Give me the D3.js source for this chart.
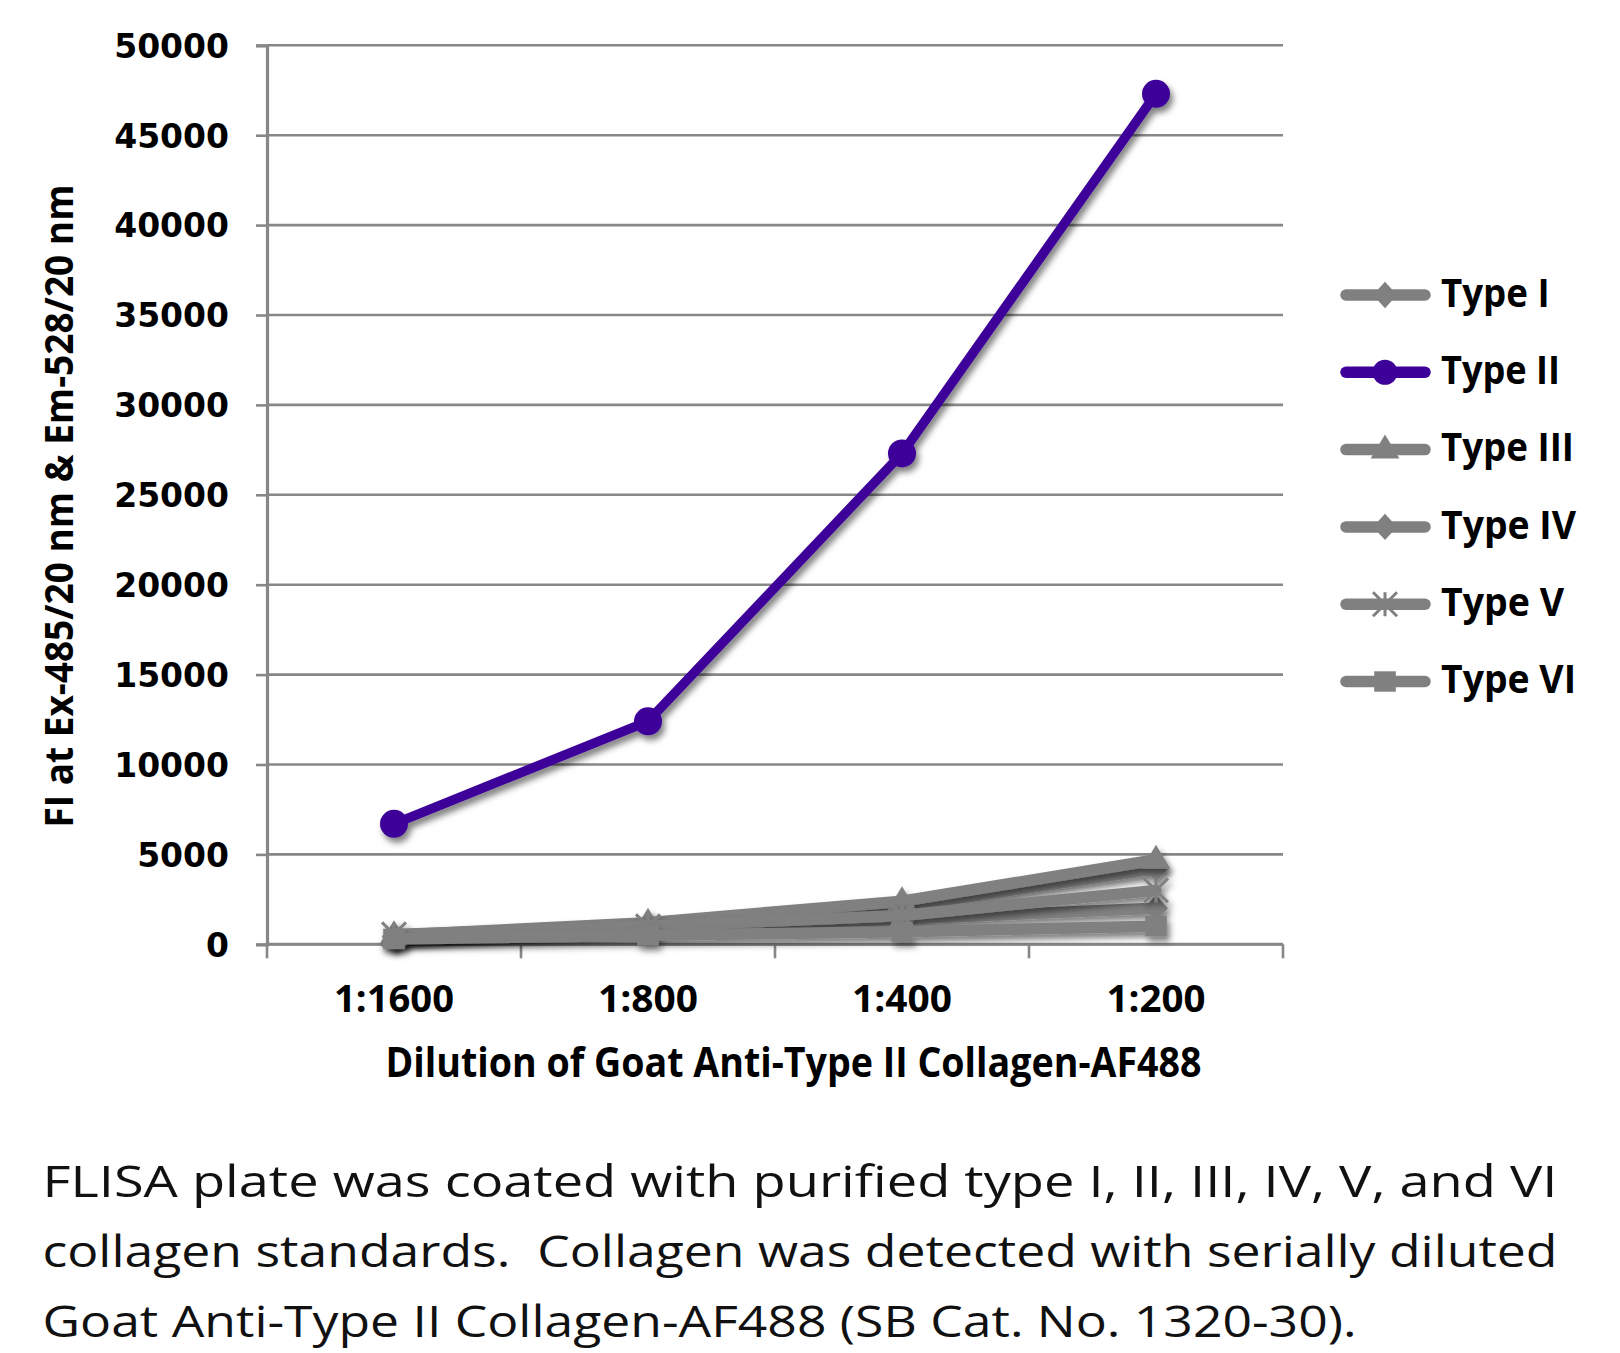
<!DOCTYPE html>
<html><head><meta charset="utf-8">
<script src="https://cdn.jsdelivr.net/npm/d3@7"></script>
<style>body{margin:0;background:#fff}svg{display:block}</style>
</head><body>
<svg id="c" width="1620" height="1353"></svg>
<script>
// ---- data ----
const categories = ["1:1600", "1:800", "1:400", "1:200"];
const seriesNames = ["Type I", "Type II", "Type III", "Type IV", "Type V", "Type VI"];
const typeI   = [450, 1100, 2100, 4200];
const typeII  = [6700, 12400, 27300, 47300];
const typeIII = [500, 1200, 2400, 4700];
const typeIV  = [400, 900, 1400, 2000];
const typeV   = [550, 1000, 1600, 3000];
const typeVI  = [300, 500, 700, 1000];
const yTicks = [0, 5000, 10000, 15000, 20000, 25000, 30000, 35000, 40000, 45000, 50000];
const seriesMarkers = ["diamond", "circle", "triangle", "diamond", "star", "square"];
const yTitle = "FI at Ex-485/20 nm & Em-528/20 nm";
const xTitle = "Dilution of Goat Anti-Type II Collagen-AF488";
const captionLines = [
  "FLISA plate was coated with purified type I, II, III, IV, V, and VI",
  "collagen standards.  Collagen was detected with serially diluted",
  "Goat Anti-Type II Collagen-AF488 (SB Cat. No. 1320-30)."
];

// ---- styling / layout ----
const GRAY = "#808080", PURPLE = "#3d0099", GRID = "#878787";
const seriesColors = [GRAY, PURPLE, GRAY, GRAY, GRAY, GRAY];
const seriesData = [typeI, typeII, typeIII, typeIV, typeV, typeVI];
const plot = {x0: 267, x1: 1283, y0: 45.3, y1: 944.3};

const svg = d3.select("#c");
const defs = svg.append("defs");
const f = defs.append("filter").attr("id", "sh").attr("filterUnits", "userSpaceOnUse")
  .attr("x", 0).attr("y", 0).attr("width", 1620).attr("height", 1353);
f.append("feDropShadow").attr("dx", 3).attr("dy", 5).attr("stdDeviation", 3)
  .attr("flood-color", "#000").attr("flood-opacity", 0.5);

const x = d3.scaleBand().domain(categories).range([plot.x0, plot.x1]).paddingInner(0).paddingOuter(0);
const y = d3.scaleLinear().domain([0, 50000]).range([plot.y1, plot.y0]);

// gridlines
svg.append("g").selectAll("line").data(yTicks).join("line")
  .attr("x1", plot.x0).attr("x2", plot.x1)
  .attr("y1", d => y(d)).attr("y2", d => y(d))
  .attr("stroke", GRID).attr("stroke-width", 2.6);

// y axis
const yAxis = svg.append("g").attr("transform", `translate(${plot.x0},0)`)
  .call(d3.axisLeft(y).tickValues(yTicks).tickSize(11).tickPadding(27).tickFormat(d3.format("d")));
yAxis.select(".domain").attr("stroke", GRID).attr("stroke-width", 3.2);
yAxis.selectAll(".tick line").attr("stroke", GRID).attr("stroke-width", 2.6);
yAxis.selectAll(".tick text")
  .attr("font-family", "DejaVu Sans").attr("font-weight", "bold").attr("font-size", 33)
  .attr("fill", "#000").attr("dy", "0.36em");

// x axis ticks at band boundaries
const bounds = categories.map(c => x(c)).concat([x(categories[categories.length - 1]) + x.bandwidth()]);
svg.append("g").selectAll("line").data(bounds).join("line")
  .attr("x1", d => d).attr("x2", d => d).attr("y1", plot.y1).attr("y2", plot.y1 + 14)
  .attr("stroke", GRID).attr("stroke-width", 2.6);
svg.append("line").attr("x1", plot.x0).attr("x2", plot.x1).attr("y1", plot.y1).attr("y2", plot.y1)
  .attr("stroke", GRID).attr("stroke-width", 3);

const xLabelWidths = {"1:1600": 120, "1:800": 100, "1:400": 100, "1:200": 99};
svg.append("g").selectAll("text").data(categories).join("text")
  .attr("x", d => x(d) + x.bandwidth() / 2).attr("y", 1011.5)
  .attr("text-anchor", "middle")
  .attr("font-family", "Open Sans").attr("font-weight", "bold").attr("font-size", 37)
  .attr("textLength", d => xLabelWidths[d]).attr("lengthAdjust", "spacingAndGlyphs")
  .text(d => d);

// axis titles
svg.append("text").attr("transform", "translate(72.7,506) rotate(-90)")
  .attr("text-anchor", "middle").attr("font-family", "Open Sans").attr("font-weight", "bold")
  .attr("font-size", 40).attr("textLength", 643).attr("lengthAdjust", "spacingAndGlyphs")
  .text(yTitle);
svg.append("text").attr("x", 793.5).attr("y", 1076.7)
  .attr("text-anchor", "middle").attr("font-family", "Open Sans").attr("font-weight", "bold")
  .attr("font-size", 41).attr("textLength", 816).attr("lengthAdjust", "spacingAndGlyphs")
  .text(xTitle);

// markers
function markerPath(type, s) {
  switch (type) {
    case "diamond": return `M0,${-s*1.1}L${s},0L0,${s*1.1}L${-s},0Z`;
    case "triangle": return `M0,${-s*1.25}L${s*1.2},${s*0.75}L${-s*1.2},${s*0.75}Z`;
    case "square": return `M${-s*0.9},${-s*0.85}H${s*0.9}V${s*0.85}H${-s*0.9}Z`;
    case "star": return `M${-s},${-s}L${s},${s}M${s},${-s}L${-s},${s}M0,${-s}V${s}`;
  }
}
function drawMarker(g, type, color, cx, cy, s) {
  if (type === "circle") {
    g.append("circle").attr("cx", cx).attr("cy", cy).attr("r", s).attr("fill", color);
  } else if (type === "star") {
    g.append("path").attr("d", markerPath(type, s)).attr("transform", `translate(${cx},${cy})`)
      .attr("fill", "none").attr("stroke", color).attr("stroke-width", 3);
  } else {
    g.append("path").attr("d", markerPath(type, s)).attr("transform", `translate(${cx},${cy})`)
      .attr("fill", color);
  }
}

const line = d3.line().x((d, i) => x(categories[i]) + x.bandwidth() / 2).y(d => y(d));
seriesData.forEach((vals, si) => {
  const g = svg.append("g").attr("filter", "url(#sh)");
  g.append("path").attr("d", line(vals)).attr("fill", "none")
    .attr("stroke", seriesColors[si]).attr("stroke-width", si === 1 ? 9.5 : 11.5)
    .attr("stroke-linejoin", "round").attr("stroke-linecap", "round");
  vals.forEach((v, i) => {
    drawMarker(g, seriesMarkers[si], seriesColors[si], x(categories[i]) + x.bandwidth() / 2, y(v),
      seriesMarkers[si] === "circle" ? 14 : 12);
  });
});

// legend
const legendWidths = [108.6, 119, 133, 135, 123, 135];
const leg = svg.append("g");
seriesNames.forEach((name, i) => {
  const cy = 295 + i * 77.3;
  leg.append("line").attr("x1", 1346).attr("x2", 1425).attr("y1", cy).attr("y2", cy)
    .attr("stroke", seriesColors[i]).attr("stroke-width", 11.5).attr("stroke-linecap", "round");
  drawMarker(leg, seriesMarkers[i], seriesColors[i], 1385, cy, seriesMarkers[i] === "circle" ? 12.5 : 12);
  leg.append("text").attr("x", 1441).attr("y", cy + 11.7)
    .attr("font-family", "Open Sans").attr("font-weight", "bold").attr("font-size", 39.5)
    .attr("textLength", legendWidths[i]).attr("lengthAdjust", "spacingAndGlyphs")
    .text(name);
});

// caption
const capWidths = [1515, 1515, 1314];
svg.append("g").selectAll("text").data(captionLines).join("text")
  .attr("x", 42.5).attr("y", (d, i) => 1197 + i * 70)
  .style("white-space", "pre")
  .attr("font-family", "Open Sans").attr("font-size", 44.5).attr("fill", "#111")
  .attr("textLength", (d, i) => capWidths[i]).attr("lengthAdjust", "spacingAndGlyphs")
  .text(d => d);
</script>
</body></html>
